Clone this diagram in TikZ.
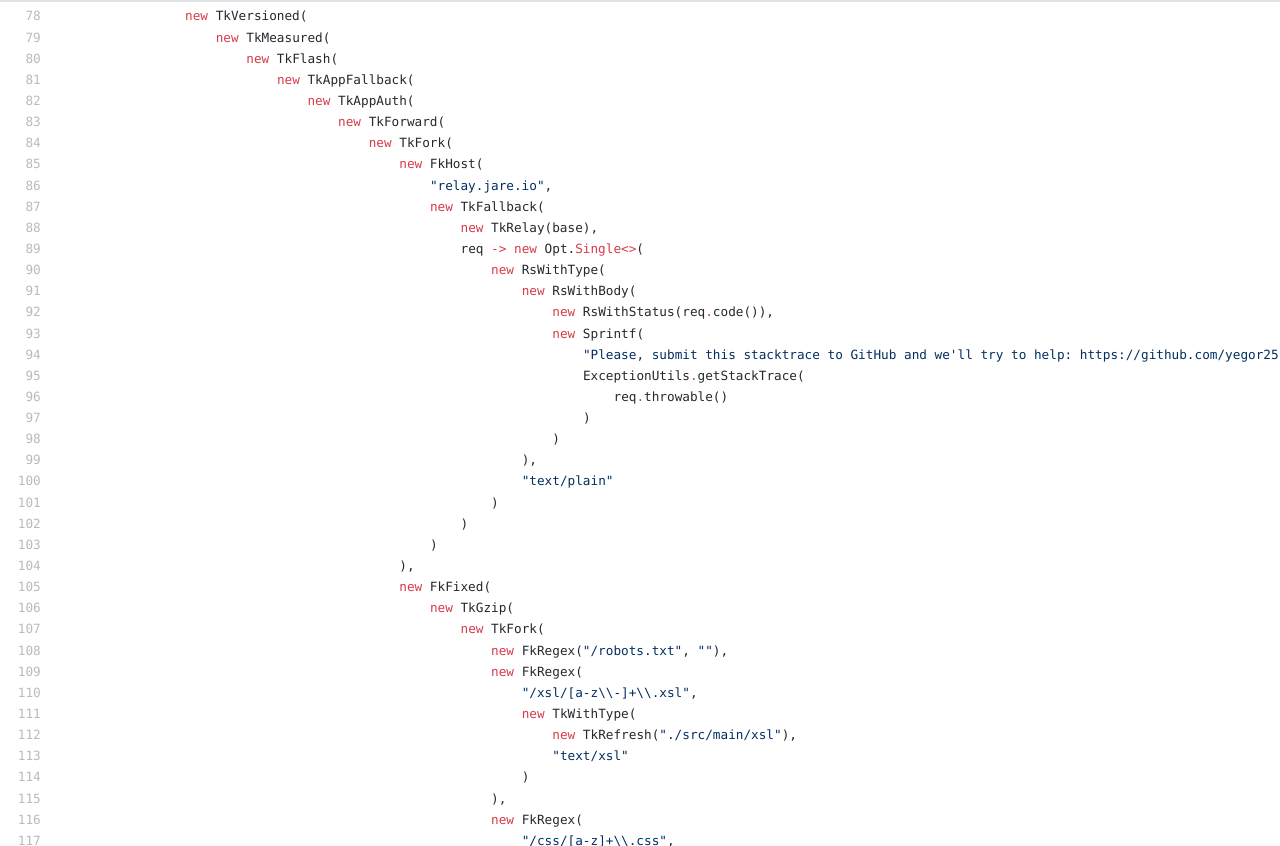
\documentclass[tikz,border=0pt]{standalone}
\usepackage{fontspec}
\setmonofont{DejaVu Sans Mono}

\definecolor{kwred}{HTML}{D73A49}
\definecolor{codeink}{HTML}{24292E}
\definecolor{strblue}{HTML}{032F62}
\definecolor{numgray}{HTML}{BABBBD}
\definecolor{rulegray}{HTML}{E1E4E8}

\newcommand{\kw}[1]{\textcolor{kwred}{#1}}
\newcommand{\qs}[1]{\textcolor{strblue}{#1}}
\newcommand{\bsl}{\textbackslash}

\tikzset{
    codeline/.style={anchor=base west, inner sep=0pt, text=codeink,
        font=\ttfamily\fontsize{12.7}{15}\selectfont},
    linenum/.style={anchor=base east, inner sep=0pt, text=numgray,
        font=\ttfamily\fontsize{12.7}{15}\selectfont}
}

% line number, indent level, text
\newcommand{\codeat}[3]{\node[codeline] (c#1) at ({185+30.6*#2},{20.9+21.14*(#1-78)}) {#3};}

\begin{document}
\begin{tikzpicture}[x=1pt, y=-1pt]
        \useasboundingbox (0,0) rectangle (1280,846);
        \clip (0,0) rectangle (1280,846);
        \fill[white] (0,0) rectangle (1280,846);
        \fill[rulegray] (0,0) rectangle (1280,2);

        \foreach \n in {78,...,117}
            \node[linenum] (n\n) at (41,{20.9+21.14*(\n-78)}) {\n};

        \codeat{78}{0}{\kw{new} TkVersioned(}
        \codeat{79}{1}{\kw{new} TkMeasured(}
        \codeat{80}{2}{\kw{new} TkFlash(}
        \codeat{81}{3}{\kw{new} TkAppFallback(}
        \codeat{82}{4}{\kw{new} TkAppAuth(}
        \codeat{83}{5}{\kw{new} TkForward(}
        \codeat{84}{6}{\kw{new} TkFork(}
        \codeat{85}{7}{\kw{new} FkHost(}
        \codeat{86}{8}{\qs{"relay.jare.io"},}
        \codeat{87}{8}{\kw{new} TkFallback(}
        \codeat{88}{9}{\kw{new} TkRelay(base),}
        \codeat{89}{9}{req \kw{->} \kw{new} Opt.\kw{Single<>}(}
        \codeat{90}{10}{\kw{new} RsWithType(}
        \codeat{91}{11}{\kw{new} RsWithBody(}
        \codeat{92}{12}{\kw{new} RsWithStatus(req\kw{.}code()),}
        \codeat{93}{12}{\kw{new} Sprintf(}
        \codeat{94}{13}{\qs{"Please, submit this stacktrace to GitHub and we'll try to help: https://github.com/yegor25}}
        \codeat{95}{13}{ExceptionUtils\kw{.}getStackTrace(}
        \codeat{96}{14}{req\kw{.}throwable()}
        \codeat{97}{13}{)}
        \codeat{98}{12}{)}
        \codeat{99}{11}{),}
        \codeat{100}{11}{\qs{"text/plain"}}
        \codeat{101}{10}{)}
        \codeat{102}{9}{)}
        \codeat{103}{8}{)}
        \codeat{104}{7}{),}
        \codeat{105}{7}{\kw{new} FkFixed(}
        \codeat{106}{8}{\kw{new} TkGzip(}
        \codeat{107}{9}{\kw{new} TkFork(}
        \codeat{108}{10}{\kw{new} FkRegex(\qs{"/robots.txt"}, \qs{""}),}
        \codeat{109}{10}{\kw{new} FkRegex(}
        \codeat{110}{11}{\qs{"/xsl/[a-z\bsl\bsl-]+\bsl\bsl.xsl"},}
        \codeat{111}{11}{\kw{new} TkWithType(}
        \codeat{112}{12}{\kw{new} TkRefresh(\qs{"./src/main/xsl"}),}
        \codeat{113}{12}{\qs{"text/xsl"}}
        \codeat{114}{11}{)}
        \codeat{115}{10}{),}
        \codeat{116}{10}{\kw{new} FkRegex(}
        \codeat{117}{11}{\qs{"/css/[a-z]+\bsl\bsl.css"},}
    \end{tikzpicture}
\end{document}
